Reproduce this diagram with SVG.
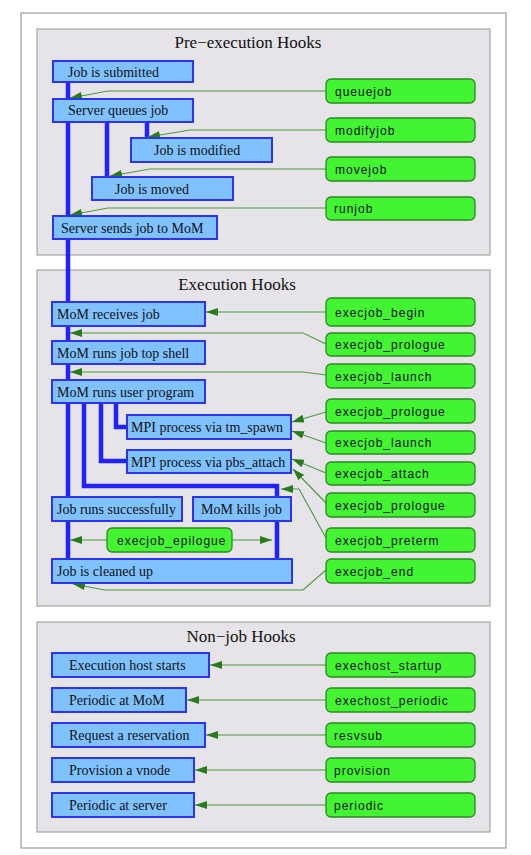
<svg xmlns="http://www.w3.org/2000/svg" width="531" height="855" viewBox="0 0 531 855">
<style>
.cl{fill:#e6e4e8;stroke:#a4a4a4;stroke-width:1.2}
.title{font-family:"Liberation Serif",serif;font-size:17px;fill:#111;text-anchor:middle}
.b rect{fill:#80c2ff;stroke:#2c34f0;stroke-width:2}
.b text{font-family:"Liberation Serif",serif;font-size:14px;fill:#111}
.g rect{fill:#42f432;stroke:#2b8b1f;stroke-width:1.3}
.g text{font-family:"Liberation Sans",sans-serif;font-size:12px;letter-spacing:1px;fill:#111}
.bl{fill:none;stroke:#2222ff;stroke-width:4.5}
.e{fill:none;stroke:#4a9a3e;stroke-width:1.1}
</style>
<defs>
<marker id="ah" viewBox="0 0 12 8" refX="12" refY="4" markerWidth="12" markerHeight="8" markerUnits="userSpaceOnUse" orient="auto">
<path d="M0,0 L12,4 L0,8 z" fill="#2a7a1e"/>
</marker>
</defs>
<rect x="21" y="13" width="485" height="835" fill="#fff" stroke="#9c9c9c" stroke-width="1.2"/>
<g id="cluster-pre"><rect class="cl" x="37" y="29" width="453" height="226"/><text class="title" x="248" y="48">Pre−execution Hooks</text></g>
<g id="cluster-exec"><rect class="cl" x="37" y="270" width="453" height="336"/><text class="title" x="237" y="290">Execution Hooks</text></g>
<g id="cluster-nonjob"><rect class="cl" x="37" y="622" width="453" height="210"/><text class="title" x="241" y="642">Non−job Hooks</text></g>

<g id="connectors">
<path class="bl" d="M68,82V99 M68,122V216 M107,122V177 M147,122V138 M68,239V302 M68,326V341 M68,364V380 M68,403V497 M68,521V559 M116,403V427H127 M101,403V461H127 M84,403V486H277V497 M277,521V559"/>
<g marker-end="url(#ah)">
<path class="e" d="M326,91H108L70,98"/>
<path class="e" d="M326,130H190L148,137"/>
<path class="e" d="M326,169H150L110,176"/>
<path class="e" d="M326,208H108L70,215"/>
<path class="e" d="M326,312H206"/>
<path class="e" d="M326,344L303,333H70"/>
<path class="e" d="M326,375L303,372H70"/>
<path class="e" d="M326,412L292,422"/>
<path class="e" d="M326,443L292,431"/>
<path class="e" d="M326,473L292,459"/>
<path class="e" d="M326,503L293,469"/>
<path class="e" d="M326,538L299,489H281"/>
<path class="e" d="M326,570L303,590H105L73,584"/>
<path class="e" d="M107,540H70"/>
<path class="e" d="M232,540H272"/>
<path class="e" d="M326,665H210"/>
<path class="e" d="M326,700H187"/>
<path class="e" d="M326,735H206"/>
<path class="e" d="M326,770H195"/>
<path class="e" d="M326,805H195"/>
</g>
</g>

<g id="job-submitted" class="b"><rect x="53" y="61" width="140" height="21"/><text x="68" y="76.5">Job is submitted</text></g>
<g id="server-queues" class="b"><rect x="53" y="99" width="140" height="23"/><text x="68" y="115">Server queues job</text></g>
<g id="job-modified" class="b"><rect x="131" y="138" width="141" height="24"/><text x="154" y="155">Job is modified</text></g>
<g id="job-moved" class="b"><rect x="92" y="177" width="141" height="23"/><text x="115" y="193.5">Job is moved</text></g>
<g id="server-sends" class="b"><rect x="53" y="216" width="164" height="23"/><text x="61" y="232.5">Server sends job to MoM</text></g>

<g id="mom-receives" class="b"><rect x="52" y="302" width="153" height="24"/><text x="57" y="319">MoM receives job</text></g>
<g id="mom-topshell" class="b"><rect x="52" y="341" width="153" height="23"/><text x="57" y="357.5">MoM runs job top shell</text></g>
<g id="mom-userprog" class="b"><rect x="52" y="380" width="153" height="23"/><text x="57" y="396.5">MoM runs user program</text></g>
<g id="mpi-tmspawn" class="b"><rect x="127" y="415" width="164" height="24"/><text x="131" y="432">MPI process via tm_spawn</text></g>
<g id="mpi-pbsattach" class="b"><rect x="127" y="450" width="164" height="23"/><text x="131" y="466.5">MPI process via pbs_attach</text></g>
<g id="job-success" class="b"><rect x="52" y="497" width="130" height="24"/><text x="57" y="514">Job runs successfully</text></g>
<g id="mom-kills" class="b"><rect x="193" y="497" width="98" height="24"/><text x="201" y="514">MoM kills job</text></g>
<g id="job-cleaned" class="b"><rect x="52" y="559" width="240" height="24"/><text x="57" y="576">Job is cleaned up</text></g>

<g id="exec-host-starts" class="b"><rect x="52" y="653" width="157" height="24"/><text x="69" y="670">Execution host starts</text></g>
<g id="periodic-mom" class="b"><rect x="52" y="688" width="134" height="24"/><text x="69" y="705">Periodic at MoM</text></g>
<g id="request-resv" class="b"><rect x="52" y="723" width="153" height="24"/><text x="69" y="740">Request a reservation</text></g>
<g id="provision-vnode" class="b"><rect x="52" y="758" width="142" height="24"/><text x="69" y="775">Provision a vnode</text></g>
<g id="periodic-server" class="b"><rect x="52" y="793" width="142" height="24"/><text x="69" y="810">Periodic at server</text></g>

<g id="queuejob" class="g"><rect x="326" y="79" width="149" height="24" rx="5"/><text x="335" y="95.5">queuejob</text></g>
<g id="modifyjob" class="g"><rect x="326" y="118" width="149" height="24" rx="5"/><text x="335" y="134.5">modifyjob</text></g>
<g id="movejob" class="g"><rect x="326" y="157" width="149" height="24" rx="5"/><text x="335" y="173.5">movejob</text></g>
<g id="runjob" class="g"><rect x="326" y="197" width="149" height="23" rx="5"/><text x="334" y="213">runjob</text></g>

<g id="execjob-begin" class="g"><rect x="326" y="298" width="149" height="28" rx="5"/><text x="335" y="316.5">execjob_begin</text></g>
<g id="execjob-prologue-1" class="g"><rect x="326" y="333" width="149" height="23" rx="5"/><text x="335" y="349">execjob_prologue</text></g>
<g id="execjob-launch-1" class="g"><rect x="326" y="364" width="149" height="24" rx="5"/><text x="335" y="380.5">execjob_launch</text></g>
<g id="execjob-prologue-2" class="g"><rect x="326" y="399" width="149" height="24" rx="5"/><text x="335" y="415.5">execjob_prologue</text></g>
<g id="execjob-launch-2" class="g"><rect x="326" y="431" width="149" height="23" rx="5"/><text x="335" y="447">execjob_launch</text></g>
<g id="execjob-attach" class="g"><rect x="326" y="462" width="149" height="23" rx="5"/><text x="335" y="478">execjob_attach</text></g>
<g id="execjob-prologue-3" class="g"><rect x="326" y="493" width="149" height="24" rx="5"/><text x="335" y="509.5">execjob_prologue</text></g>
<g id="execjob-preterm" class="g"><rect x="326" y="528" width="149" height="24" rx="5"/><text x="335" y="544.5">execjob_preterm</text></g>
<g id="execjob-end" class="g"><rect x="326" y="559" width="149" height="24" rx="5"/><text x="335" y="575.5">execjob_end</text></g>
<g id="execjob-epilogue" class="g"><rect x="107" y="528" width="125" height="24" rx="5"/><text x="117" y="544.5">execjob_epilogue</text></g>

<g id="exechost-startup" class="g"><rect x="326" y="653" width="149" height="24" rx="5"/><text x="335" y="669.5">exechost_startup</text></g>
<g id="exechost-periodic" class="g"><rect x="326" y="688" width="149" height="24" rx="5"/><text x="335" y="704.5">exechost_periodic</text></g>
<g id="resvsub" class="g"><rect x="326" y="723" width="149" height="24" rx="5"/><text x="334" y="739.5">resvsub</text></g>
<g id="provision" class="g"><rect x="326" y="758" width="149" height="24" rx="5"/><text x="334" y="774.5">provision</text></g>
<g id="periodic" class="g"><rect x="326" y="793" width="149" height="24" rx="5"/><text x="334" y="809.5">periodic</text></g>
</svg>
